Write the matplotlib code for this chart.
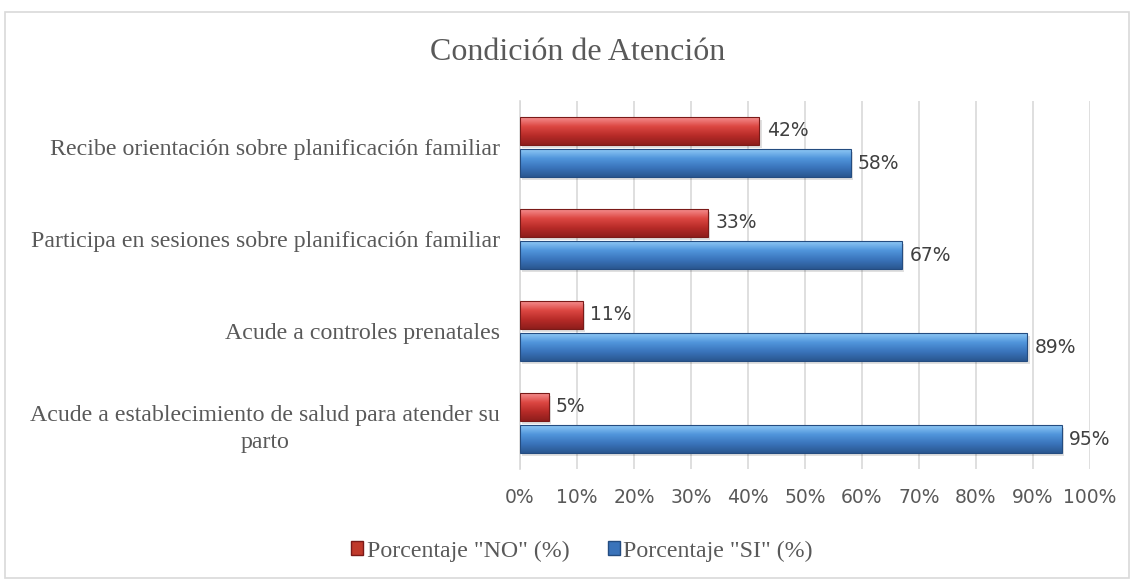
import numpy as np
import matplotlib
matplotlib.use("Agg")
import matplotlib.pyplot as plt
from matplotlib.patches import Rectangle
from matplotlib.colors import LinearSegmentedColormap

categories = [
    "Recibe orientación sobre planificación familiar",
    "Participa en sesiones sobre planificación familiar",
    "Acude a controles prenatales",
    "Acude a establecimiento de salud para atender su\nparto",
]
no_vals = [42, 33, 11, 5]
si_vals = [58, 67, 89, 95]
xticks = [0, 10, 20, 30, 40, 50, 60, 70, 80, 90, 100]
title = "Condición de Atención"
series_names = ['Porcentaje "NO" (%)', 'Porcentaje "SI" (%)']

W, H = 1134, 581
fig = plt.figure(figsize=(W / 100, H / 100), dpi=100)
fig.patch.set_facecolor("white")
# outer chart border
fig.add_artist(Rectangle((5 / W, 1 - 578 / H), (1129 - 5) / W, (578 - 12) / H,
                         transform=fig.transFigure, fill=False,
                         edgecolor="#D9D9D9", linewidth=1.2))

ax = fig.add_axes([520 / W, 1 - 469 / H, 570 / W, 368 / H])
serif = "Liberation Serif"
sans = "DejaVu Sans"
txtc = "#595959"

y = np.arange(len(categories))
bh = 0.30
off = 0.174

red_cmap = LinearSegmentedColormap.from_list("r", ["#F58E8E", "#DC4742", "#B72B28", "#8E1E1C"])
blue_cmap = LinearSegmentedColormap.from_list("b", ["#8EC8F5", "#5095DB", "#3A74BB", "#2A5790"])
grad = np.linspace(0, 1, 64).reshape(-1, 1)

def draw(vals, ypos, cmap, edge):
    bars = ax.barh(ypos, vals, height=bh, color="none", edgecolor=edge, linewidth=0.8, zorder=3)
    for b in bars:
        x0, y0 = b.get_x(), b.get_y()
        w, h = b.get_width(), b.get_height()
        ax.add_patch(Rectangle((x0 + 0.4, y0 + 0.03), w, h, facecolor="#000000",
                               alpha=0.12, edgecolor="none", zorder=2))
        im = ax.imshow(grad, cmap=cmap, aspect="auto",
                       extent=(x0, x0 + w, y0 + h, y0), zorder=2.5, interpolation="bilinear")
        im.set_clip_path(b)
    return bars

draw(no_vals, y - off, red_cmap, "#7A1A18")
draw(si_vals, y + off, blue_cmap, "#244C80")

for yi, v in zip(y - off, no_vals):
    ax.text(v + 1.3, yi, f"{v}%", va="center", ha="left", fontsize=13.5, color="#404040", family=sans)
for yi, v in zip(y + off, si_vals):
    ax.text(v + 1.3, yi, f"{v}%", va="center", ha="left", fontsize=13.5, color="#404040", family=sans)

ax.set_xlim(0, 100)
ax.set_ylim(len(categories) - 0.5, -0.5)
ax.set_xticks(xticks)
ax.set_xticklabels([f"{t}%" for t in xticks], fontsize=13.5, color=txtc, family=sans)
ax.set_yticks(y)
ax.set_yticklabels(categories, fontsize=17.2, color=txtc, family=serif,
                   multialignment="center", linespacing=1.4)
ax.tick_params(axis="both", length=0)
ax.tick_params(axis="x", pad=14)
ax.tick_params(axis="y", pad=14.5)
ax.grid(axis="x", color="#D9D9D9", linewidth=1.2, zorder=0)
ax.set_axisbelow(True)
for s in ["top", "right", "bottom"]:
    ax.spines[s].set_visible(False)
ax.spines["left"].set_color("#D9D9D9")
ax.spines["left"].set_linewidth(1.2)

fig.text(578 / W, 1 - 52 / H, title, ha="center", va="center", fontsize=23, color=txtc, family=serif)

handles = [Rectangle((0, 0), 1, 1, facecolor="#C0392B", edgecolor="#7A1A18"),
           Rectangle((0, 0), 1, 1, facecolor="#3A73BA", edgecolor="#244C80")]
leg = fig.legend(handles, series_names, loc="center", bbox_to_anchor=(582 / W, 1 - 551 / H),
                 ncol=2, frameon=False, prop={"family": serif, "size": 17.2},
                 handlelength=0.5, handleheight=0.5, handletextpad=0.15, columnspacing=1.6)
for t in leg.get_texts():
    t.set_color(txtc)

fig.savefig("out.png", dpi=100)
